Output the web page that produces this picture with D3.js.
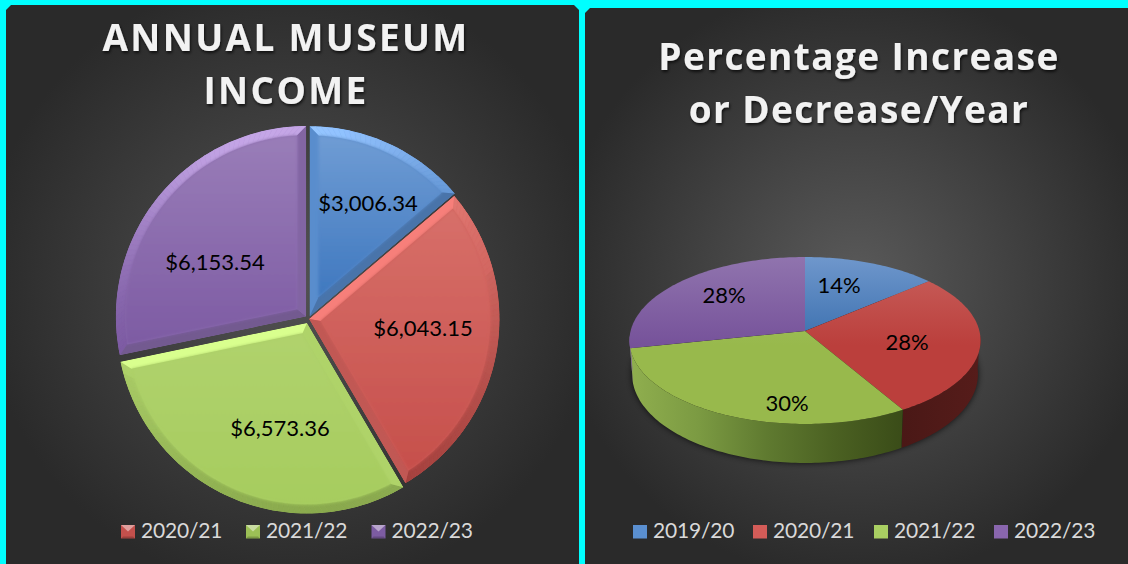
<!DOCTYPE html>
<html>
<head>
<meta charset="utf-8">
<script src="https://cdn.jsdelivr.net/npm/d3@7"></script>
<style>
  html, body { margin: 0; padding: 0; background: #00ffff; overflow: hidden; }
  text { font-family: Lato, "Open Sans", sans-serif; }
  text.title { font-family: "Open Sans", sans-serif; }
</style>
</head>
<body>
<svg width="1128" height="564"></svg>
<script>
var incomeYears = ['2019/20', '2020/21', '2021/22', '2022/23'];
var incomeValues = [3006.34, 6043.15, 6573.36, 6153.54];
var incomeLegend = ['2020/21', '2021/22', '2022/23'];
var shareValues = [13.8, 27.75, 30.19, 28.26];
var titleLeft = ['ANNUAL MUSEUM', 'INCOME'];
var titleRight = ['Percentage Increase', 'or Decrease/Year'];

var colors = d3.scaleOrdinal().domain(incomeYears).range(['#4f81bd', '#c0504d', '#9bbb59', '#8064a2']);
var lightTop = ['#6f9cd4', '#d76f69', '#b0d26d', '#997db8'];
var lightBottom = ['#3f78bf', '#c64f4b', '#a6cc5e', '#7d5ba3'];
var flatTop = ['#6f97cc', '#c9625e', '#a8c670', '#9074ae'];
var flatBottom = ['#3a6fae', '#bb3f3c', '#98b94c', '#76529a'];
var keyBevelled = ['#4f81bd', '#c4504c', '#9cc056', '#7d5ca3'];
var keyFlat = ['#5a8fd0', '#d45c58', '#a9cf62', '#8966ae'];

var svg = d3.select('svg');
var defs = svg.append('defs');
var line = d3.line();

function panelPath(x0, y0, x1, y1) {
  var c = 5;
  return line([[x0 + c, y0], [x1 - c, y0], [x1, y0 + c], [x1, y1], [x0, y1], [x0, y0 + c]]) + 'Z';
}

function radial(id, cx, cy, r, inner, outer) {
  var g = defs.append('radialGradient').attr('id', id).attr('gradientUnits', 'userSpaceOnUse')
    .attr('cx', cx).attr('cy', cy).attr('r', r);
  g.append('stop').attr('offset', 0).attr('stop-color', inner);
  g.append('stop').attr('offset', 1).attr('stop-color', outer);
}

function vertical(id, top, bottom, y0, y1) {
  var g = defs.append('linearGradient').attr('id', id).attr('x1', 0).attr('x2', 0);
  if (y0 !== undefined) g.attr('gradientUnits', 'userSpaceOnUse').attr('y1', y0).attr('y2', y1);
  else g.attr('y1', 0).attr('y2', 1);
  g.append('stop').attr('offset', 0).attr('stop-color', top);
  g.append('stop').attr('offset', 1).attr('stop-color', bottom);
}

function horizontal(id, stops, x0, x1) {
  var g = defs.append('linearGradient').attr('id', id).attr('gradientUnits', 'userSpaceOnUse')
    .attr('x1', x0).attr('x2', x1).attr('y1', 0).attr('y2', 0);
  stops.forEach(function (s, i) {
    g.append('stop').attr('offset', i / (stops.length - 1)).attr('stop-color', s);
  });
}

radial('bgLeft', 292, 282, 310, '#525252', '#2a2a2a');
radial('bgRight', 856, 282, 300, '#5a5a5a', '#2a2a2a');

var soft = defs.append('filter').attr('id', 'titleShadow').attr('x', '-5%').attr('y', '-20%').attr('width', '110%').attr('height', '150%');
soft.append('feDropShadow').attr('dx', 1).attr('dy', 2).attr('stdDeviation', 1.5).attr('flood-color', '#000').attr('flood-opacity', 0.7);
defs.append('filter').attr('id', 'blur3').attr('x', '-10%').attr('y', '-10%').attr('width', '120%').attr('height', '120%')
  .append('feGaussianBlur').attr('stdDeviation', 3);
defs.append('filter').attr('id', 'blurEdge').attr('x', '-5%').attr('y', '-5%').attr('width', '110%').attr('height', '110%')
  .append('feGaussianBlur').attr('stdDeviation', 1.8);

svg.append('path').attr('d', panelPath(6, 5, 579, 564)).attr('fill', 'url(#bgLeft)');
svg.append('path').attr('d', panelPath(585, 8, 1133, 569)).attr('fill', 'url(#bgRight)');

function drawTitle(lines, cx, y0, step, spacing) {
  svg.append('g').selectAll('text').data(lines).enter().append('text')
    .attr('class', 'title')
    .attr('x', cx).attr('y', function (d, i) { return y0 + i * step; })
    .attr('text-anchor', 'middle')
    .attr('font-size', 37).attr('font-weight', 700).attr('letter-spacing', spacing)
    .attr('fill', '#f2f2f2').attr('filter', 'url(#titleShadow)')
    .text(function (d) { return d; });
}
drawTitle(titleLeft, 286, 51, 53, 2.35);
drawTitle(titleRight, 859, 70, 53, 1.4);

function pieLabel(g, x, y, text) {
  g.append('text').attr('x', x).attr('y', y).attr('text-anchor', 'middle').attr('dy', '0.35em')
    .attr('font-size', 22).attr('fill', '#000').text(text);
}

// left pie: flat, sliced apart, with a mitred bevel round each slice
var R = 190.5;
var bevelWidth = 9;
var pieCx = 308, pieCy = 318;
var sliceShift = [[1.5, -1.3], [1, 1], [-1, 5], [-1.7, -1.5]];
var labelSpots = [[368, 203], [423, 328], [280, 428], [215, 262]];
var arcs = d3.pie().sort(null)(incomeValues);
var leftPie = svg.append('g').attr('transform', 'translate(' + pieCx + ',' + pieCy + ')');

function polar(r, a) {
  return [Math.sin(a) * r, -Math.cos(a) * r];
}

// light falls from above and a little to the left
function shade(base, nx, ny) {
  var s = nx * -0.25 + ny * -0.97;
  if (s > 0) return d3.interpolateRgb(d3.rgb(base).brighter(0.6 * s * s), '#fff')(0.12 * s * s);
  return d3.interpolateRgb(base, '#000')(-0.14 * s + 0.03);
}

arcs.forEach(function (d, i) {
  var a0 = d.startAngle, a1 = d.endAngle, mid = (a0 + a1) / 2, half = (a1 - a0) / 2;
  var r1 = R - bevelWidth;
  var da = Math.asin(bevelWidth / r1);
  var tip = polar(bevelWidth / Math.sin(half), mid);
  var g = leftPie.append('g')
    .attr('transform', 'translate(' + sliceShift[i] + ')');

  var n = Math.ceil((a1 - a0) / 0.03);
  var outer = d3.range(n + 1).map(function (k) { return polar(R, a0 + (a1 - a0) * k / n); });
  var inner = d3.range(n + 1).map(function (k) {
    return polar(r1, a0 + da + (a1 - a0 - 2 * da) * k / n);
  });

  var ys = outer.map(function (p) { return p[1]; }).concat(0);
  var yScale = d3.scaleLinear().domain(d3.extent(ys)).range([0, 1]);
  var tone = d3.interpolateRgb(lightTop[i], lightBottom[i]);

  var clipId = 'sliceClip' + i;
  defs.append('clipPath').attr('id', clipId).append('path').attr('d', line([[0, 0]].concat(outer)) + 'Z');
  var clipped = g.append('g').attr('clip-path', 'url(#' + clipId + ')');

  clipped.append('path').attr('d', line([[0, 0]].concat(outer)) + 'Z').attr('fill', tone(0.5));
  d3.range(n).forEach(function (k) {
    var a = a0 + (a1 - a0) * (k + 0.5) / n;
    var c = shade(tone(yScale(outer[k][1])), Math.sin(a), -Math.cos(a));
    clipped.append('path')
      .attr('d', line([outer[k], outer[k + 1], inner[k + 1], inner[k]]) + 'Z')
      .attr('fill', c).attr('stroke', c).attr('stroke-width', 0.5);
  });
  // the two straight edges
  var c0 = shade(tone(0.5), -Math.cos(a0), -Math.sin(a0));
  clipped.append('path').attr('d', line([[0, 0], outer[0], inner[0], tip]) + 'Z').attr('fill', c0);
  var c1 = shade(tone(0.5), Math.cos(a1), Math.sin(a1));
  clipped.append('path').attr('d', line([[0, 0], outer[n], inner[n], tip]) + 'Z').attr('fill', c1);

  // feathered face, so that the bevel fades into it
  vertical('sliceFill' + i, lightTop[i], lightBottom[i]);
  clipped.append('path').attr('d', line([tip].concat(inner)) + 'Z')
    .attr('fill', 'url(#sliceFill' + i + ')').attr('filter', 'url(#blurEdge)');
});

var leftLabels = svg.append('g');
incomeValues.forEach(function (v, i) {
  pieLabel(leftLabels, labelSpots[i][0], labelSpots[i][1], d3.format('$,.2f')(v));
});

// right pie: perspective disc, worked out from the rim of the picture
var disc = { cx: 805, cy: 331, a: 174.4, b: 82.4, k: 0.1138 };
var floor = { cx: 805, cy: 364, a: 171.8, b: 87.7, k: 0.1138 };

function project(p, angle) {
  var u = Math.sin(angle), v = -Math.cos(angle), w = 1 - p.k * v;
  return [p.cx + p.a * u / w, p.cy + p.b * v / w];
}

function rim(p, a0, a1) {
  var n = Math.max(2, Math.ceil((a1 - a0) / 0.02));
  return d3.range(n + 1).map(function (i) { return project(p, a0 + (a1 - a0) * i / n); });
}

var shareArcs = d3.pie().sort(null)(shareValues);
var rightPie = svg.append('g');

// soft shadow under the wall
rightPie.append('path')
  .attr('d', line(rim(floor, 0, 2 * Math.PI)) + 'Z')
  .attr('fill', '#000').attr('opacity', 0.75).attr('filter', 'url(#blur3)');

horizontal('wallGreen', ['#8fae4e', '#7b9a42', '#5f7a30', '#4b6122', '#3a4c18'], 632, 902);
horizontal('wallRed', ['#4a1816', '#561c1a'], 902, 980);

var wallFill = { 1: 'url(#wallRed)', 2: 'url(#wallGreen)' };
shareArcs.forEach(function (d, i) {
  var a0 = Math.max(d.startAngle, Math.PI / 2 + 0.05);
  var a1 = Math.min(d.endAngle, 3 * Math.PI / 2 - 0.05);
  if (a1 <= a0) return;
  rightPie.append('path')
    .attr('d', line(rim(disc, a0, a1).concat(rim(floor, a0, a1).reverse())) + 'Z')
    .attr('fill', wallFill[i] || colors(incomeYears[i]));
});

shareArcs.forEach(function (d, i) {
  vertical('topFill' + i, flatTop[i], flatBottom[i], 257, 345);
  rightPie.append('path')
    .attr('d', line([[disc.cx, disc.cy]].concat(rim(disc, d.startAngle, d.endAngle))) + 'Z')
    .attr('fill', 'url(#topFill' + i + ')');
});

var shareSpots = [[839, 285], [907, 342], [787, 403], [724, 295]];
var rightLabels = svg.append('g');
shareValues.forEach(function (v, i) {
  pieLabel(rightLabels, shareSpots[i][0], shareSpots[i][1], d3.format('.0%')(v / d3.sum(shareValues)));
});

// legends
var keyW = 14, keyH = 13.5, keyY = 525;

function drawLegend(names, keyX, keyColors, bevelled) {
  var g = svg.append('g').selectAll('g').data(names).enter().append('g');
  g.append('rect').attr('x', function (d, i) { return keyX[i]; }).attr('y', keyY)
    .attr('width', keyW).attr('height', keyH)
    .attr('fill', function (d) { return keyColors[incomeYears.indexOf(d)]; });
  if (bevelled) {
    g.append('path')
      .attr('d', function (d, i) {
        var x = keyX[i];
        return line([[x, keyY], [x + keyW, keyY], [x + keyW / 2, keyY + 6.5]]) + 'Z';
      })
      .attr('fill', function (d) {
        return d3.interpolateRgb(keyColors[incomeYears.indexOf(d)], '#fff')(0.45);
      });
    g.append('path')
      .attr('d', function (d, i) {
        var x = keyX[i];
        return line([[x, keyY + keyH], [x + keyW, keyY + keyH], [x + keyW - 2, keyY + keyH - 2], [x + 2, keyY + keyH - 2]]) + 'Z';
      })
      .attr('fill', '#000').attr('opacity', 0.2);
  }
  g.append('text').attr('x', function (d, i) { return keyX[i] + 20; }).attr('y', 538)
    .attr('font-size', 21).attr('letter-spacing', -0.2).attr('fill', '#d9d9d9')
    .text(function (d) { return d; });
}

drawLegend(incomeLegend, [121, 246, 371.5], keyBevelled, true);
drawLegend(incomeYears, [633, 753, 874, 994], keyFlat, false);
</script>
</body>
</html>
